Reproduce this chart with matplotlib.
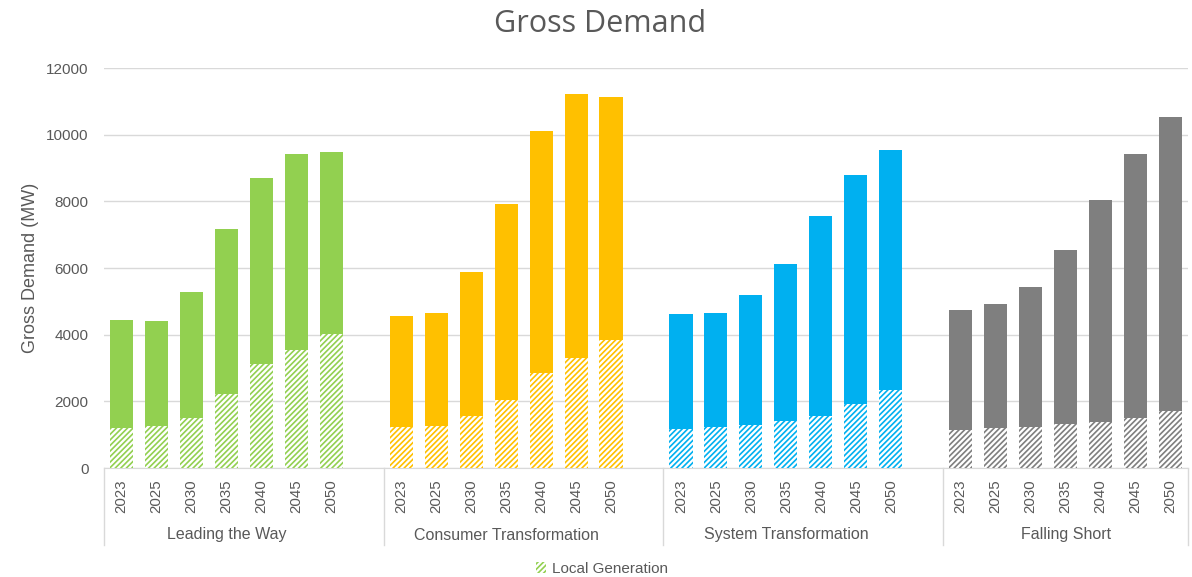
import numpy as np
import matplotlib
matplotlib.use("Agg")
import matplotlib.pyplot as plt
from matplotlib.patches import Patch

# datos (MW)
escenarios = ["Leading the Way", "Consumer Transformation", "System Transformation", "Falling Short"]
anios = ["2023", "2025", "2030", "2035", "2040", "2045", "2050"]

total_ltw = [4440, 4410, 5280, 7170, 8700, 9420, 9480]
local_ltw = [1200, 1270, 1510, 2220, 3120, 3540, 4020]

total_ct = [4560, 4650, 5880, 7920, 10110, 11220, 11130]
local_ct = [1220, 1270, 1550, 2040, 2860, 3300, 3840]

total_st = [4620, 4650, 5190, 6120, 7560, 8790, 9540]
local_st = [1170, 1220, 1290, 1400, 1550, 1920, 2350]

total_fs = [4740, 4920, 5430, 6540, 8040, 9420, 10520]
local_fs = [1140, 1190, 1240, 1320, 1380, 1500, 1710]

colores = ["#92D050", "#FFC000", "#00B0F0", "#7F7F7F"]
texto = "#595959"

totales = [total_ltw, total_ct, total_st, total_fs]
locales = [local_ltw, local_ct, local_st, local_fs]

plt.rcParams['font.family'] = ['Liberation Sans', 'DejaVu Sans']
plt.rcParams['hatch.linewidth'] = 1.2

fig = plt.figure(figsize=(11.92, 5.77), dpi=100)
ax = fig.add_axes([104 / 1192, 109 / 577, 1084 / 1192, 400 / 577])

n = len(anios)
paso = n + 1  # un hueco entre grupos
todas_pos = []
for g, (tot, loc) in enumerate(zip(totales, locales)):
    pos = g * paso + np.arange(n)
    todas_pos.extend(pos)
    tot = np.array(tot)
    loc = np.array(loc)
    ax.bar(pos, loc, width=0.66, facecolor="white", edgecolor=colores[g],
           hatch="//////", linewidth=0, zorder=3)
    ax.bar(pos, tot - loc, bottom=loc, width=0.66, color=colores[g],
           linewidth=0, zorder=3)

ax.set_xlim(-0.5, 3 * paso + n - 0.5)
ax.set_ylim(0, 12000)
ax.set_yticks(np.arange(0, 12001, 2000))
ax.yaxis.grid(True, color="#D9D9D9", linewidth=1)
ax.set_axisbelow(True)
for s in ["top", "right", "left"]:
    ax.spines[s].set_visible(False)
ax.spines["bottom"].set_color("#D9D9D9")
ax.tick_params(axis="y", length=0, labelsize=11, labelcolor=texto, pad=11)

ax.set_xticks(todas_pos)
ax.set_xticklabels(anios * len(escenarios), rotation=90)
ax.tick_params(axis="x", length=0, labelsize=10.8, labelcolor=texto, pad=8)

# separadores y nombres de grupo
trans = ax.get_xaxis_transform()
for g in range(len(escenarios) + 1):
    xs = g * paso - 0.5 if g < len(escenarios) else 3 * paso + n - 0.5
    ax.plot([xs, xs], [0, -0.1925], transform=trans, color="#D9D9D9",
            linewidth=1, clip_on=False)
for g, nombre in enumerate(escenarios):
    ax.text(g * paso + (n - 1) / 2, -0.1675, nombre, transform=trans,
            ha="center", va="center", fontsize=11.5, color=texto)

ax.set_ylabel("Gross Demand (MW)", fontsize=13, color=texto, labelpad=5)
fig.text(0.503, 0.958, "Gross Demand", ha="center", va="center",
         fontsize=22, color=texto, family="Open Sans")

leyenda = [Patch(facecolor="white", edgecolor=colores[0], hatch="//////",
                 linewidth=0, label="Local Generation")]
fig.legend(handles=leyenda, loc="center", bbox_to_anchor=(0.505, 0.014),
           frameon=False, fontsize=11, labelcolor=texto,
           handlelength=0.7, handleheight=0.7, handletextpad=0.4)

fig.savefig("out.png", dpi=100)
